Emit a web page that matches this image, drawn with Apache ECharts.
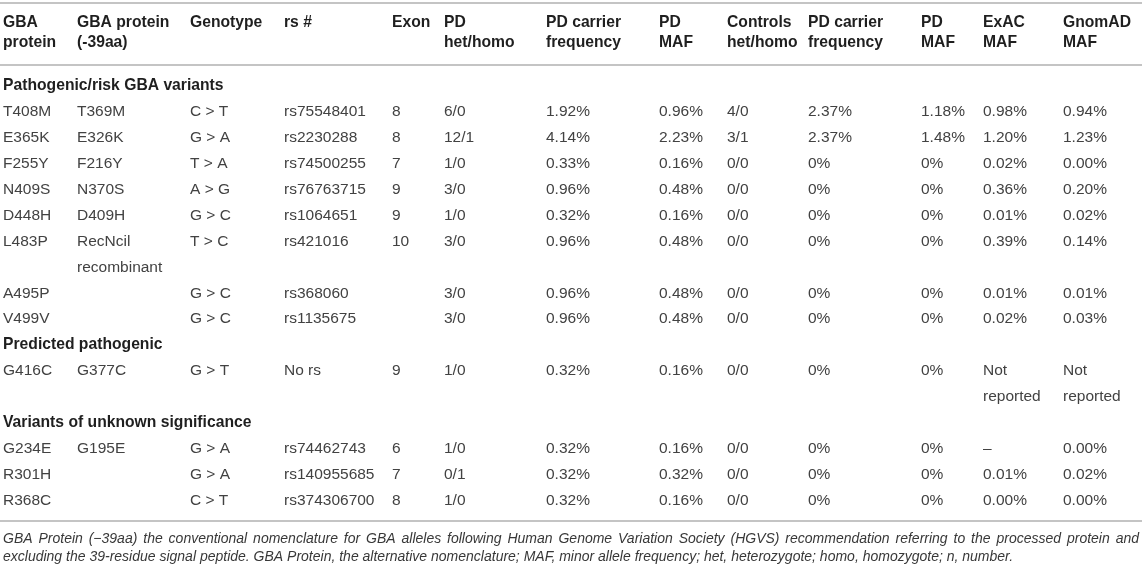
<!DOCTYPE html>
<html>
<head>
<meta charset="utf-8">
<script src="https://cdn.jsdelivr.net/npm/echarts@6/dist/echarts.min.js"></script>
<style>
html,body{margin:0;padding:0;background:#fff;}
#chart{width:1142px;height:569px;}
</style>
</head>
<body>
<div id="chart"></div>
<script>
// ---------- DATA ----------
const headers = [
  ['GBA', 'protein'], ['GBA protein', '(-39aa)'], ['Genotype'], ['rs #'], ['Exon'],
  ['PD', 'het/homo'], ['PD carrier', 'frequency'], ['PD', 'MAF'], ['Controls', 'het/homo'],
  ['PD carrier', 'frequency'], ['PD', 'MAF'], ['ExAC', 'MAF'], ['GnomAD', 'MAF']
];
const sections = ['Pathogenic/risk GBA variants', 'Predicted pathogenic', 'Variants of unknown significance'];
const sectionOf = [0, 0, 0, 0, 0, 0, 0, 0, 1, 2, 2, 2];
const gbaProtein    = ['T408M', 'E365K', 'F255Y', 'N409S', 'D448H', 'L483P', 'A495P', 'V499V', 'G416C', 'G234E', 'R301H', 'R368C'];
const gbaProtein39  = ['T369M', 'E326K', 'F216Y', 'N370S', 'D409H', 'RecNcil\nrecombinant', '', '', 'G377C', 'G195E', '', ''];
const genotype      = ['C > T', 'G > A', 'T > A', 'A > G', 'G > C', 'T > C', 'G > C', 'G > C', 'G > T', 'G > A', 'G > A', 'C > T'];
const rsId          = ['rs75548401', 'rs2230288', 'rs74500255', 'rs76763715', 'rs1064651', 'rs421016', 'rs368060', 'rs1135675', 'No rs', 'rs74462743', 'rs140955685', 'rs374306700'];
const exon          = ['8', '8', '7', '9', '9', '10', '', '', '9', '6', '7', '8'];
const pdHetHomo     = ['6/0', '12/1', '1/0', '3/0', '1/0', '3/0', '3/0', '3/0', '1/0', '1/0', '0/1', '1/0'];
const pdCarrierFreq = ['1.92%', '4.14%', '0.33%', '0.96%', '0.32%', '0.96%', '0.96%', '0.96%', '0.32%', '0.32%', '0.32%', '0.32%'];
const pdMaf         = ['0.96%', '2.23%', '0.16%', '0.48%', '0.16%', '0.48%', '0.48%', '0.48%', '0.16%', '0.16%', '0.32%', '0.16%'];
const ctrlHetHomo   = ['4/0', '3/1', '0/0', '0/0', '0/0', '0/0', '0/0', '0/0', '0/0', '0/0', '0/0', '0/0'];
const ctrlCarrier   = ['2.37%', '2.37%', '0%', '0%', '0%', '0%', '0%', '0%', '0%', '0%', '0%', '0%'];
const ctrlMaf       = ['1.18%', '1.48%', '0%', '0%', '0%', '0%', '0%', '0%', '0%', '0%', '0%', '0%'];
const exacMaf       = ['0.98%', '1.20%', '0.02%', '0.36%', '0.01%', '0.39%', '0.01%', '0.02%', 'Not\nreported', '\u2013', '0.01%', '0.00%'];
const gnomadMaf     = ['0.94%', '1.23%', '0.00%', '0.20%', '0.02%', '0.14%', '0.01%', '0.03%', 'Not\nreported', '0.00%', '0.02%', '0.00%'];
const footnote = [
  'GBA Protein (\u221239aa) the conventional nomenclature for GBA alleles following Human Genome Variation Society (HGVS) recommendation referring to the processed protein and',
  'excluding the 39-residue signal peptide. GBA Protein, the alternative nomenclature; MAF, minor allele frequency; het, heterozygote; homo, homozygote; n, number.'
];

// ---------- LAYOUT (styles/positions, not data) ----------
const W = 1142, H = 569;
const colX = [3, 77, 190, 284, 392, 444, 546, 659, 727, 808, 921, 983, 1063];
const firstRowY = 112, rowStep = 25.9;
const headerY = [23, 43];
const ruleY = [3, 65, 521];
const footY = [539, 557];
const footLeft = 3, footRight = 1139;
const bodyFont = '15.5px "Liberation Sans", Arial, sans-serif';
const boldFont = 'bold 15.7px "Liberation Sans", Arial, sans-serif';
const footFont = 'italic 14px "Liberation Sans", Arial, sans-serif';
const bodyColor = '#424242', headColor = '#1f1f1f', footColor = '#383838', ruleColor = '#b0b0b0';

// ---------- build cells (row index via sequential layout) ----------
const columnsData = [gbaProtein, gbaProtein39, genotype, rsId, exon, pdHetHomo, pdCarrierFreq, pdMaf,
  ctrlHetHomo, ctrlCarrier, ctrlMaf, exacMaf, gnomadMaf];
const cells = [];
let row = -1, lastSection = -1;
for (let i = 0; i < gbaProtein.length; i++) {
  if (sectionOf[i] !== lastSection) {
    row++;
    lastSection = sectionOf[i];
    cells.push({ col: 0, row: row, text: sections[lastSection], bold: true });
  }
  row++;
  let span = 1;
  columnsData.forEach((arr, c) => {
    const lines = String(arr[i]).split('\n');
    span = Math.max(span, lines.length);
    lines.forEach((t, k) => { if (t) cells.push({ col: c, row: row + k, text: t, bold: false }); });
  });
  row += span - 1;
}
const nRowsPx = H / rowStep;
const yMin = -(firstRowY - rowStep) / rowStep;
const yMax = yMin + nRowsPx;

const graphics = [];
ruleY.forEach(y => graphics.push({
  type: 'line', shape: { x1: 0, y1: y, x2: W, y2: y },
  style: { stroke: ruleColor, lineWidth: 1.5 }, silent: true
}));
headers.forEach((h, c) => h.forEach((t, k) => graphics.push({
  type: 'text', x: colX[c], y: headerY[k],
  style: { text: t, font: boldFont, fill: headColor, align: 'left', verticalAlign: 'middle' }
})));

// footnote: first line justified to the table width, last line natural
const mctx = document.createElement('canvas').getContext('2d');
mctx.font = footFont;
footnote.forEach((t, k) => {
  if (k < footnote.length - 1) {
    const words = t.split(' ');
    const widths = words.map(w => mctx.measureText(w).width);
    const total = widths.reduce((a, b) => a + b, 0);
    const gap = (footRight - footLeft - total) / (words.length - 1);
    let x = footLeft;
    words.forEach((w, i) => {
      graphics.push({
        type: 'text', x: x, y: footY[k],
        style: { text: w, font: footFont, fill: footColor, align: 'left', verticalAlign: 'middle' }
      });
      x += widths[i] + gap;
    });
  } else {
    graphics.push({
      type: 'text', x: footLeft, y: footY[k],
      style: { text: t, font: footFont, fill: footColor, align: 'left', verticalAlign: 'middle' }
    });
  }
});

const chart = echarts.init(document.getElementById('chart'), null, { renderer: 'canvas' });
chart.setOption({
  animation: false,
  backgroundColor: '#fff',
  grid: { left: 0, right: 0, top: 0, bottom: 0 },
  xAxis: { type: 'value', min: 0, max: headers.length, show: false },
  yAxis: { type: 'value', inverse: true, min: yMin, max: yMax, show: false },
  graphic: graphics,
  series: [{
    type: 'custom',
    coordinateSystem: 'cartesian2d',
    data: cells.map(c => [c.col, c.row]),
    renderItem: function (params, api) {
      const cell = cells[params.dataIndex];
      const p = api.coord([api.value(0), api.value(1)]);
      return {
        type: 'text',
        x: colX[cell.col],
        y: p[1],
        style: {
          text: cell.text,
          font: cell.bold ? boldFont : bodyFont,
          fill: cell.bold ? headColor : bodyColor,
          align: 'left', verticalAlign: 'middle'
        }
      };
    }
  }]
});
</script>
</body>
</html>
